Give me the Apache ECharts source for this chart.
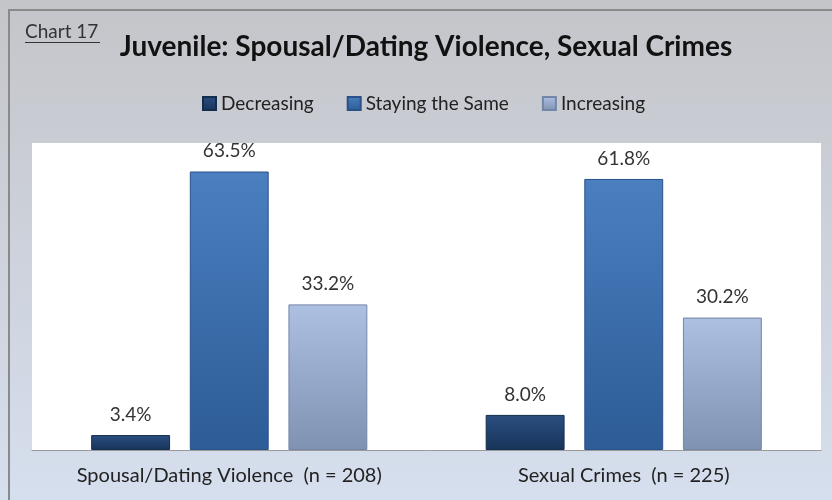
<!DOCTYPE html>
<html><head><meta charset="utf-8">
<script src="https://cdn.jsdelivr.net/npm/echarts@6/dist/echarts.min.js"></script>
<style>html,body{margin:0;padding:0;background:#fff}#c{width:832px;height:500px}</style>
</head><body><div id="c"></div>
<script>
const categories = ['Spousal/Dating Violence  (n = 208)', 'Sexual Crimes  (n = 225)'];
const seriesNames = ['Decreasing', 'Staying the Same', 'Increasing'];
const decreasing = [3.4, 8.0];
const stayingSame = [63.5, 61.8];
const increasing = [33.2, 30.2];

const FONT = 'Lato, "Open Sans", sans-serif';
function grad(top, bottom) {
  return new echarts.graphic.LinearGradient(0, 0, 0, 1, [
    {offset: 0, color: top}, {offset: 1, color: bottom}
  ]);
}
const styles = [
  {color: grad('#2b4f80', '#17345a'), borderColor: '#142c4d'},
  {color: grad('#4a7fc0', '#2d5c96'), borderColor: '#2a5189'},
  {color: grad('#adc0e2', '#7f92b2'), borderColor: '#7386a6'}
];
const values = [decreasing, stayingSame, increasing];

const chart = echarts.init(document.getElementById('c'), null, {renderer: 'canvas'});
chart.setOption({
  animation: false,
  backgroundColor: new echarts.graphic.LinearGradient(0, 0, 0, 1, [
    {offset: 0, color: '#c4c5c9'}, {offset: 1, color: '#d6dfee'}
  ]),
  graphic: [
    {type: 'rect', shape: {x: 9, y: 10, width: 840, height: 500}, style: {fill: 'none', stroke: '#8a8a8a', lineWidth: 2}, z: 10},
    {type: 'text', left: 25, top: 22, style: {text: 'Chart 17', font: '19px ' + FONT, fill: '#333'}},
    {type: 'line', shape: {x1: 25, y1: 42.5, x2: 100, y2: 42.5}, style: {stroke: '#333', lineWidth: 1}}
  ],
  title: {
    text: 'Juvenile: Spousal/Dating Violence, Sexual Crimes',
    left: 421, textAlign: 'center', top: 28,
    textStyle: {fontFamily: FONT, fontSize: 28, fontWeight: 'bold', color: '#111'}
  },
  legend: {
    top: 89, left: 197, icon: 'rect', itemWidth: 13, itemHeight: 13, itemGap: 33,
    textStyle: {fontFamily: FONT, fontSize: 19, color: '#222'},
    data: seriesNames
  },
  grid: {left: 32, right: 11, top: 143, bottom: 50, show: true, backgroundColor: '#fff', borderWidth: 0},
  xAxis: {
    type: 'category', data: categories,
    axisLine: {lineStyle: {color: '#999'}},
    axisTick: {show: false},
    axisLabel: {interval: 0, fontFamily: FONT, fontSize: 20, color: '#222', margin: 16}
  },
  yAxis: {type: 'value', min: 0, max: 70, show: false, splitLine: {show: false}},
  series: seriesNames.map((name, i) => ({
    name, type: 'bar', data: values[i],
    barWidth: '20%', barGap: '25%', barCategoryGap: '30%',
    itemStyle: {color: styles[i].color, borderColor: styles[i].borderColor, borderWidth: 1},
    label: {show: true, position: 'top', distance: 11, formatter: p => p.value.toFixed(1) + '%',
      fontFamily: FONT, fontSize: 19, color: '#333'}
  }))
});
</script></body></html>
